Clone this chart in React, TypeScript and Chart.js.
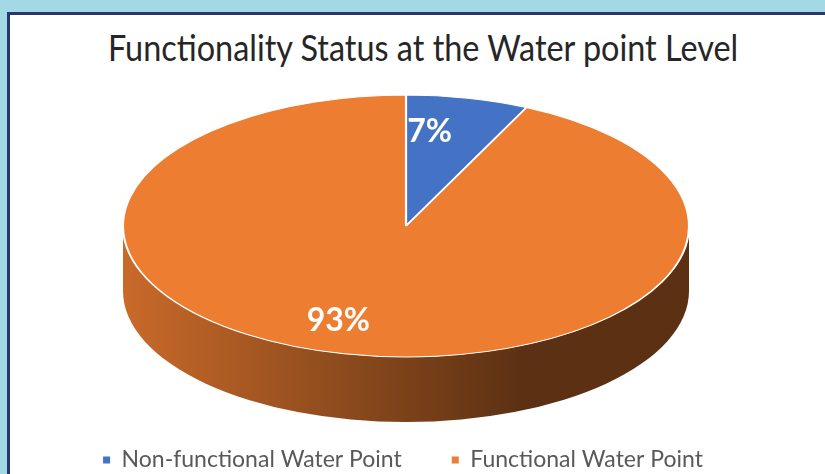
import React, { useEffect, useRef } from 'react';
import { Chart, registerables } from 'chart.js';

Chart.register(...registerables);

const TITLE = 'Functionality Status at the Water point Level';
const categories = ['Non-functional Water Point', 'Functional Water Point'];
const values = [7, 93];
const colors = ['#4472c4', '#ed7d31'];

// tilted-pie geometry (page pixels)
const CX = 406;
const CY = 226;
const RX = 283;
const RY = 131;
const DEPTH = 65;

function shade(hex: string, f: number): string {
  const n = parseInt(hex.slice(1), 16);
  const r = Math.round(((n >> 16) & 255) * f);
  const g = Math.round(((n >> 8) & 255) * f);
  const b = Math.round((n & 255) * f);
  return `rgb(${r},${g},${b})`;
}

function drawSide(ctx: CanvasRenderingContext2D, a: number, b: number, color: string) {
  ctx.save();
  ctx.beginPath();
  ctx.ellipse(CX, CY, RX, RY, 0, a, b, false);
  ctx.ellipse(CX, CY + DEPTH, RX, RY, 0, b, a, true);
  ctx.closePath();
  const g = ctx.createLinearGradient(CX - RX, 0, CX + 115, 0);
  g.addColorStop(0, shade(color, 0.85));
  g.addColorStop(1, shade(color, 0.39));
  ctx.fillStyle = g;
  ctx.fill();
  ctx.restore();
}

const pie3d = {
  id: 'pie3d',
  beforeDatasetsDraw(chart: any) {
    const ctx = chart.ctx as CanvasRenderingContext2D;
    const meta = chart.getDatasetMeta(0);
    meta.data.forEach((arc: any, i: number) => {
      const { startAngle, endAngle } = arc.getProps(['startAngle', 'endAngle'], true);
      for (const shift of [-2 * Math.PI, 0, 2 * Math.PI]) {
        const a = Math.max(startAngle + shift, 0);
        const b = Math.min(endAngle + shift, Math.PI);
        if (b > a) drawSide(ctx, a, b, colors[i]);
      }
    });
    const a0 = meta.data[0];
    const { x, y, outerRadius } = a0.getProps(['x', 'y', 'outerRadius'], true);
    ctx.save();
    ctx.translate(CX, CY);
    ctx.scale(RX / outerRadius, RY / outerRadius);
    ctx.translate(-x, -y);
  },
  afterDatasetsDraw(chart: any) {
    const ctx = chart.ctx as CanvasRenderingContext2D;
    ctx.restore();
    const meta = chart.getDatasetMeta(0);
    const total = values.reduce((s, v) => s + v, 0);
    ctx.save();
    ctx.fillStyle = '#ffffff';
    ctx.font = 'bold 32px Lato';
    ctx.textAlign = 'center';
    ctx.textBaseline = 'middle';
    meta.data.forEach((arc: any, i: number) => {
      const { startAngle, endAngle } = arc.getProps(['startAngle', 'endAngle'], true);
      const mid = (startAngle + endAngle) / 2;
      const f = 0.74;
      const px = CX + RX * f * Math.cos(mid) - 22;
      const py = CY + RY * f * Math.sin(mid);
      ctx.fillText(Math.round((values[i] / total) * 100) + '%', px, py);
    });
    ctx.restore();
  },
};

export default function App() {
  const canvasRef = useRef<HTMLCanvasElement>(null);
  const titleRef = useRef<HTMLSpanElement>(null);

  useEffect(() => {
    document.body.style.overflow = 'hidden';
    if (titleRef.current) {
      const w = titleRef.current.offsetWidth;
      titleRef.current.style.transform = `scaleX(${630 / w})`;
    }
    const chart = new Chart(canvasRef.current as HTMLCanvasElement, {
      type: 'pie',
      data: {
        labels: categories,
        datasets: [
          {
            data: values,
            backgroundColor: colors,
            borderColor: '#ffffff',
            borderWidth: 1.5,
            clip: false,
          } as any,
        ],
      },
      options: {
        responsive: false,
        animation: false,
        layout: { padding: { left: 0, right: 19, top: 0, bottom: 8.5 } },
        plugins: {
          title: { display: false },
          tooltip: { enabled: false },
          legend: {
            position: 'bottom',
            labels: {
              boxWidth: 7,
              boxHeight: 7,
              padding: 50,
              color: '#595959',
              font: { family: 'Lato', size: 23 },
              generateLabels: () =>
                categories.map((c, i) => ({
                  text: c,
                  fillStyle: colors[i],
                  strokeStyle: colors[i],
                  lineWidth: 0,
                  hidden: false,
                  index: i,
                  fontColor: '#595959',
                })),
            },
          },
        },
      },
      plugins: [pie3d],
    });
    return () => chart.destroy();
  }, []);

  return (
    <div style={{ position: 'fixed', left: 0, top: 0, width: 825, height: 474, background: '#a3d9e5', overflow: 'hidden' }}>
      <div
        style={{
          position: 'absolute',
          left: 7,
          top: 12,
          width: 900,
          height: 600,
          background: '#ffffff',
          borderLeft: '3px solid #27386c',
          borderTop: '3px solid #27386c',
          boxSizing: 'border-box',
        }}
      />
      <div
        style={{
          position: 'absolute',
          left: 10,
          width: 826,
          top: 29,
          textAlign: 'center',
          fontFamily: 'Lato',
          fontSize: 36,
          lineHeight: '36px',
          color: '#262626',
          whiteSpace: 'nowrap',
        }}
      >
        <span ref={titleRef} style={{ display: 'inline-block', transformOrigin: 'center' }}>
          {TITLE}
        </span>
      </div>
      <canvas ref={canvasRef} width={825} height={490} style={{ position: 'absolute', left: 0, top: 0 }} />
    </div>
  );
}
